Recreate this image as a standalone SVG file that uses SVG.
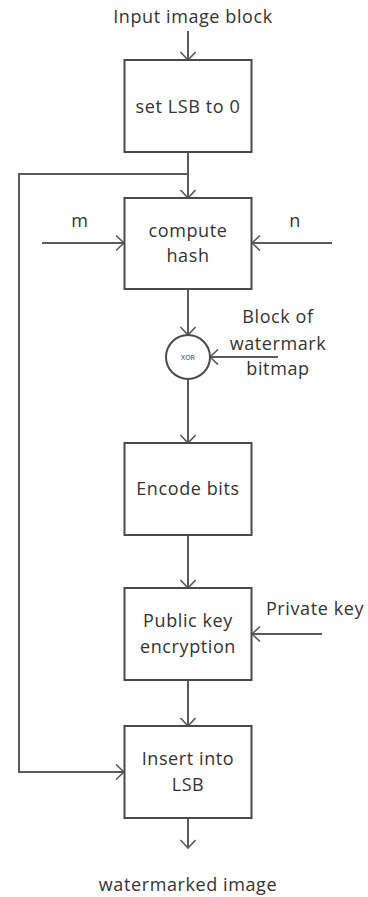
<svg xmlns="http://www.w3.org/2000/svg" width="368" height="897" viewBox="0 0 368 897">
<style>
.box{fill:#fff;stroke:#4a4a4a;stroke-width:2}
.ln{fill:none;stroke:#5a5a5a;stroke-width:2}
text{font-family:"Open Sans","Liberation Sans",sans-serif;font-size:18px;fill:#333;letter-spacing:0.6px;text-anchor:middle}
</style>
<defs>
<marker id="ah" markerUnits="userSpaceOnUse" markerWidth="12" markerHeight="18" refX="9" refY="8" orient="auto">
<path d="M1,0.5 L9,8 L1,15.5" fill="none" stroke="#5a5a5a" stroke-width="1.6"/>
</marker>
</defs>
<rect width="368" height="897" fill="#fff"/>
<g id="connectors">
<line class="ln" x1="188" y1="31" x2="188" y2="60" marker-end="url(#ah)"/>
<line class="ln" x1="188" y1="152" x2="188" y2="198" marker-end="url(#ah)"/>
<polyline class="ln" points="188,174 19,174 19,772 124,772" marker-end="url(#ah)"/>
<line class="ln" x1="42" y1="243" x2="124" y2="243" marker-end="url(#ah)"/>
<line class="ln" x1="332" y1="243" x2="252" y2="243" marker-end="url(#ah)"/>
<line class="ln" x1="188" y1="289" x2="188" y2="335" marker-end="url(#ah)"/>
<line class="ln" x1="278" y1="357" x2="210" y2="357" marker-end="url(#ah)"/>
<line class="ln" x1="188" y1="379" x2="188" y2="443" marker-end="url(#ah)"/>
<line class="ln" x1="188" y1="535" x2="188" y2="588" marker-end="url(#ah)"/>
<line class="ln" x1="322" y1="634" x2="252" y2="634" marker-end="url(#ah)"/>
<line class="ln" x1="188" y1="680" x2="188" y2="726" marker-end="url(#ah)"/>
<line class="ln" x1="188" y1="818" x2="188" y2="848" marker-end="url(#ah)"/>
</g>
<g id="input"><text x="193" y="23">Input image block</text></g>
<g id="setlsb"><rect class="box" x="124.5" y="60" width="127" height="92"/><text x="188" y="113">set LSB to 0</text></g>
<g id="hash"><rect class="box" x="124.5" y="198" width="127" height="91"/><text x="188" y="237">compute</text><text x="188" y="262">hash</text></g>
<g id="m"><text x="80" y="227">m</text></g>
<g id="n"><text x="295" y="227">n</text></g>
<g id="xor"><circle cx="188" cy="357" r="22" class="box"/><text x="188" y="360" style="font-size:7px;letter-spacing:0">XOR</text></g>
<g id="block"><text x="278" y="323">Block of</text><text x="278" y="350">watermark</text><text x="278" y="375">bitmap</text></g>
<g id="encode"><rect class="box" x="124.5" y="443" width="127" height="92"/><text x="188" y="495">Encode bits</text></g>
<g id="pubkey"><rect class="box" x="124.5" y="588" width="127" height="92"/><text x="188" y="627">Public key</text><text x="188" y="653">encryption</text></g>
<g id="privkey"><text x="315" y="615">Private key</text></g>
<g id="insert"><rect class="box" x="124.5" y="726" width="127" height="92"/><text x="188" y="765">Insert into</text><text x="188" y="791">LSB</text></g>
<g id="output"><text x="188" y="891">watermarked image</text></g>
</svg>
